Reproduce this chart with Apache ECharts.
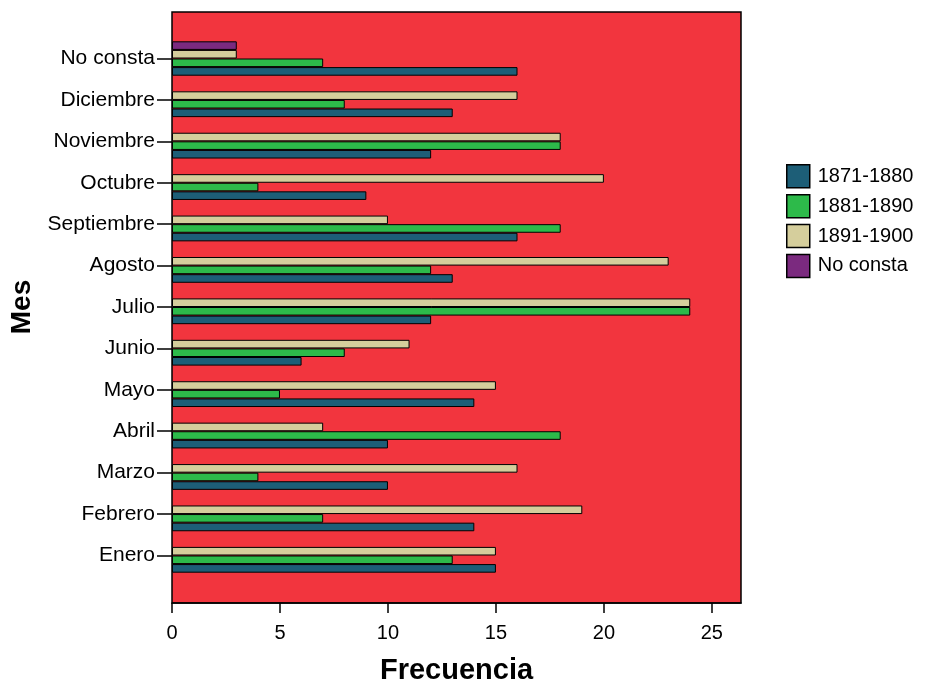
<!DOCTYPE html>
<html>
<head>
<meta charset="utf-8">
<script src="https://cdn.jsdelivr.net/npm/echarts@6/dist/echarts.min.js"></script>
<style>
  html, body { margin: 0; padding: 0; background: #fff; }
  #chart { width: 926px; height: 686px; }
</style>
</head>
<body>
<div id="chart"></div>
<script>
// Months (bottom to top on the category axis)
const meses = ['Enero', 'Febrero', 'Marzo', 'Abril', 'Mayo', 'Junio', 'Julio',
  'Agosto', 'Septiembre', 'Octubre', 'Noviembre', 'Diciembre', 'No consta'];

// Frequencies per decade
const d1871_1880 = [15, 14, 10, 10, 14, 6, 12, 13, 16, 9, 12, 13, 16];
const d1881_1890 = [13, 7, 4, 18, 5, 8, 24, 12, 18, 4, 18, 8, 7];
const d1891_1900 = [15, 19, 16, 7, 15, 11, 24, 23, 10, 20, 18, 16, 3];
const dNoConsta  = [null, null, null, null, null, null, null, null, null, null, null, null, 3];

const xTicks = [0, 5, 10, 15, 20, 25];
const legendOrder = ['1871-1880', '1881-1890', '1891-1900', 'No consta'];

const font = 'Liberation Sans, Arial, sans-serif';
const xMax = 26.35;

const chart = echarts.init(document.getElementById('chart'), null, { renderer: 'canvas' });

function barSeries(name, data, color) {
  return {
    name: name,
    type: 'bar',
    xAxisIndex: 1,
    yAxisIndex: 1,
    data: data,
    barGap: '0%',
    barCategoryGap: '17%',
    itemStyle: { color: color, borderColor: '#000', borderWidth: 1 },
    emphasis: { disabled: true }
  };
}

chart.setOption({
  animation: false,
  textStyle: { fontFamily: font },
  legend: {
    orient: 'vertical',
    left: 786,
    top: 164,
    padding: 0,
    itemWidth: 23,
    itemHeight: 23,
    itemGap: 5.4,
    icon: 'rect',
    textStyle: { fontSize: 20, color: '#000', fontFamily: font, padding: [0, 0, 0, 3] },
    itemStyle: { borderColor: '#000', borderWidth: 1.5 },
    data: legendOrder
  },
  grid: [
    {
      // frame with the red plotting background
      left: 172, top: 12, width: 569, height: 591,
      show: true,
      backgroundColor: '#f2353e',
      borderColor: '#000',
      borderWidth: 1.5,
      containLabel: false,
      outerBoundsMode: 'none'
    },
    {
      // band area holding the bars
      left: 172, top: 37.8, width: 569, height: 538.4,
      containLabel: false,
      outerBoundsMode: 'none'
    }
  ],
  xAxis: [
    {
      gridIndex: 0,
      type: 'value',
      min: 0,
      max: xMax,
      interval: 5,
      axisLabel: {
        customValues: xTicks,
        fontSize: 20, color: '#000', margin: 20, fontFamily: font
      },
      axisTick: { customValues: xTicks, show: true, length: 10, lineStyle: { color: '#000', width: 1.5 } },
      axisLine: { show: true, lineStyle: { color: '#000', width: 1.5 } },
      splitLine: { show: false },
      name: 'Frecuencia',
      nameLocation: 'middle',
      nameGap: 53,
      nameTextStyle: { fontSize: 29, fontWeight: 'bold', color: '#000', fontFamily: font }
    },
    {
      gridIndex: 1,
      type: 'value',
      min: 0,
      max: xMax,
      show: false
    }
  ],
  yAxis: [
    {
      gridIndex: 0,
      type: 'value',
      show: false
    },
    {
      gridIndex: 1,
      type: 'category',
      data: meses,
      axisTick: { show: true, alignWithLabel: true, length: 15, lineStyle: { color: '#000', width: 1.5 } },
      axisLine: { show: false },
      axisLabel: { fontSize: 21, color: '#000', margin: 17, fontFamily: font },
      name: 'Mes',
      nameLocation: 'middle',
      nameRotate: 90,
      nameGap: 127,
      nameTextStyle: { fontSize: 28, fontWeight: 'bold', color: '#000', fontFamily: font }
    }
  ],
  // listed top-down so the first decade sits lowest in each group
  series: [
    barSeries('No consta', dNoConsta, '#7b2a7f'),
    barSeries('1891-1900', d1891_1900, '#d5ce9c'),
    barSeries('1881-1890', d1881_1890, '#2dba4a'),
    barSeries('1871-1880', d1871_1880, '#1d5e77')
  ]
});
</script>
</body>
</html>
